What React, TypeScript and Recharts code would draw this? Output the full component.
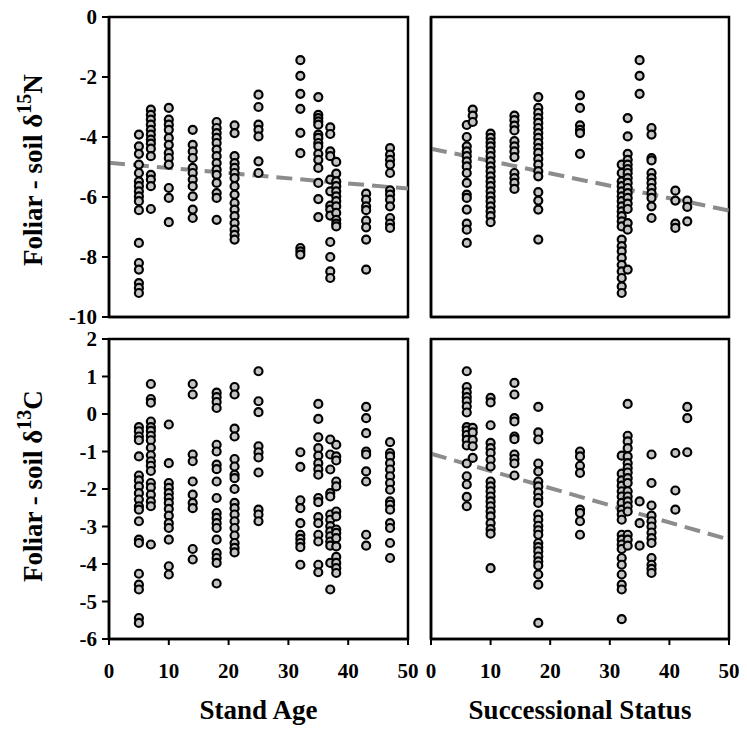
import React from 'react';
import { ScatterChart, Scatter, XAxis, YAxis, ReferenceLine, ReferenceArea } from 'recharts';

type Column = [number, number[]];

const xTicks = [0, 10, 20, 30, 40, 50];
const nTicks = [-10, -8, -6, -4, -2, 0];
const cTicks = [-6, -5, -4, -3, -2, -1, 0, 1, 2];

// foliar - soil d15N vs stand age
const ageN: Column[] = [
  [5, [-3.92, -4.31, -4.56, -4.92, -5.2, -5.48, -5.64, -5.81, -5.98, -6.14, -6.44, -7.53, -8.2, -8.42, -8.87, -9.03, -9.2]],
  [7, [-3.09, -3.26, -3.42, -3.59, -3.76, -3.92, -4.09, -4.22, -4.39, -4.64, -5.26, -5.42, -5.64, -6.4]],
  [10, [-3.03, -3.42, -3.59, -3.76, -4.03, -4.26, -4.53, -4.7, -4.92, -5.7, -6.03, -6.84]],
  [14, [-3.76, -4.26, -4.48, -4.7, -5.03, -5.2, -5.42, -5.64, -5.98, -6.42, -6.7]],
  [18, [-3.5, -3.7, -3.87, -4.03, -4.2, -4.42, -4.64, -4.87, -5.09, -5.26, -5.53, -5.87, -6.03, -6.76]],
  [21, [-3.61, -3.87, -4.64, -4.87, -5.03, -5.2, -5.37, -5.64, -5.92, -6.2, -6.42, -6.64, -6.87, -7.09, -7.26, -7.42]],
  [25, [-2.59, -3.0, -3.59, -3.76, -3.98, -4.81, -5.2]],
  [32, [-1.44, -1.96, -2.56, -3.06, -3.86, -4.54, -7.7, -7.81, -7.92]],
  [35, [-2.67, -3.26, -3.37, -3.48, -3.59, -3.92, -4.03, -4.2, -4.31, -4.56, -4.76, -5.03, -5.53, -6.07, -6.67]],
  [37, [-3.68, -3.9, -4.48, -4.64, -5.42, -5.81, -6.29, -6.42, -6.62, -7.5, -8.0, -8.48, -8.7]],
  [38, [-4.83, -5.22, -5.48, -5.64, -5.81, -5.98, -6.14, -6.31, -6.53, -6.76, -6.89, -6.98]],
  [43, [-5.89, -6.09, -6.31, -6.44, -6.79, -7.01, -7.42, -8.42]],
  [47, [-4.37, -4.59, -4.76, -4.92, -5.2, -5.78, -5.92, -6.09, -6.31, -6.7, -6.89, -7.03]],
];

// foliar - soil d15N vs successional status
const statusN: Column[] = [
  [6, [-3.6, -4.0, -4.31, -4.48, -4.64, -4.81, -4.98, -5.2, -5.53, -5.92, -6.03, -6.42, -6.89, -7.09, -7.53]],
  [7, [-3.09, -3.29, -3.5]],
  [10, [-3.89, -4.03, -4.18, -4.31, -4.48, -4.64, -4.81, -4.98, -5.14, -5.31, -5.48, -5.64, -5.81, -5.98, -6.14, -6.31, -6.48, -6.64, -6.84]],
  [14, [-3.29, -3.44, -3.62, -3.78, -4.14, -4.31, -4.48, -4.67, -5.2, -5.37, -5.53, -5.73]],
  [18, [-2.67, -3.03, -3.2, -3.37, -3.53, -3.7, -3.87, -4.03, -4.2, -4.37, -4.53, -4.73, -4.92, -5.14, -5.31, -5.84, -6.12, -6.42, -7.42]],
  [25, [-2.61, -3.03, -3.61, -3.76, -3.87, -4.56]],
  [32, [-4.92, -5.2, -5.48, -5.64, -5.81, -5.98, -6.14, -6.31, -6.48, -6.64, -6.81, -6.98, -7.42, -7.64, -7.81, -8.03, -8.26, -8.48, -8.7, -8.98, -9.2]],
  [33, [-3.37, -3.98, -4.56, -4.76, -4.92, -5.07, -5.2, -5.37, -5.53, -5.7, -5.87, -6.03, -6.22, -6.4, -6.87, -7.09, -8.42]],
  [35, [-1.44, -1.96, -2.56]],
  [37, [-3.7, -3.92, -4.7, -4.78, -5.2, -5.37, -5.53, -5.7, -5.87, -6.03, -6.31, -6.7]],
  [41, [-5.79, -6.12, -6.89, -7.03]],
  [43, [-6.12, -6.33, -6.81]],
];

// foliar - soil d13C vs stand age
const ageC: Column[] = [
  [5, [-0.35, -0.46, -0.6, -0.7, -1.13, -1.64, -1.77, -1.93, -2.11, -2.28, -2.46, -2.55, -2.86, -3.35, -3.44, -4.26, -4.55, -4.68, -5.44, -5.57]],
  [7, [0.8, 0.4, 0.3, -0.2, -0.35, -0.45, -0.58, -0.7, -0.9, -1.1, -1.26, -1.38, -1.52, -1.84, -1.96, -2.15, -2.33, -2.46, -3.48]],
  [10, [-0.28, -1.31, -1.84, -1.97, -2.11, -2.24, -2.37, -2.53, -2.71, -2.91, -3.04, -3.35, -4.06, -4.28]],
  [14, [0.8, 0.52, -1.08, -1.26, -1.8, -2.15, -2.37, -2.51, -3.6, -3.88]],
  [18, [0.57, 0.45, 0.32, 0.16, -0.82, -1.0, -1.35, -1.47, -1.8, -2.24, -2.64, -2.77, -2.91, -3.04, -3.35, -3.71, -3.84, -3.97, -4.52]],
  [21, [0.72, 0.52, -0.39, -0.6, -1.2, -1.4, -1.62, -1.71, -2.0, -2.37, -2.51, -2.68, -2.86, -3.04, -3.24, -3.44, -3.57, -3.69]],
  [25, [1.14, 0.34, 0.05, -0.86, -1.02, -1.16, -1.56, -2.55, -2.68, -2.86]],
  [32, [-1.02, -1.41, -2.3, -2.51, -2.91, -3.22, -3.33, -3.44, -3.55, -4.02]],
  [35, [0.27, -0.13, -0.62, -0.91, -1.11, -1.31, -1.47, -1.62, -2.24, -2.35, -2.75, -2.91, -3.22, -3.4, -4.02, -4.22]],
  [37, [-0.68, -1.08, -1.48, -2.11, -2.2, -2.68, -2.82, -2.99, -3.13, -3.26, -3.4, -3.51, -3.97, -4.68]],
  [38, [-0.82, -1.13, -1.24, -1.8, -1.93, -2.6, -2.73, -3.08, -3.17, -3.31, -3.53, -3.81, -3.97, -4.11, -4.24]],
  [43, [0.19, -0.11, -0.51, -1.0, -1.08, -1.53, -1.8, -3.22, -3.51]],
  [47, [-0.75, -1.04, -1.13, -1.31, -1.48, -1.66, -1.84, -2.02, -2.33, -2.42, -2.55, -2.91, -3.04, -3.44, -3.84]],
];

// foliar - soil d13C vs successional status
const statusC: Column[] = [
  [6, [1.14, 0.72, 0.58, 0.45, 0.34, 0.2, 0.04, -0.35, -0.44, -0.56, -0.69, -0.84, -1.32, -1.66, -1.88, -2.21, -2.46]],
  [7, [-0.37, -0.49, -0.69, -0.86, -1.17]],
  [10, [0.43, 0.31, -0.3, -0.77, -0.91, -1.04, -1.22, -1.4, -1.8, -1.93, -2.06, -2.2, -2.33, -2.46, -2.6, -2.73, -2.91, -3.07, -3.19, -4.11]],
  [14, [0.83, 0.52, -0.11, -0.2, -0.6, -0.67, -1.08, -1.2, -1.32, -1.64]],
  [18, [0.19, -0.49, -0.68, -1.32, -1.53, -1.8, -1.93, -2.09, -2.24, -2.37, -2.68, -2.82, -2.98, -3.1, -3.22, -3.44, -3.55, -3.66, -3.8, -3.93, -4.04, -4.28, -4.55, -5.57]],
  [25, [-1.0, -1.13, -1.38, -1.57, -2.55, -2.64, -2.86, -3.22]],
  [32, [-1.11, -1.59, -1.77, -1.91, -2.06, -2.2, -2.37, -2.55, -2.68, -2.82, -3.22, -3.35, -3.48, -3.6, -3.84, -4.02, -4.28, -4.55, -4.68, -5.47]],
  [33, [0.27, -0.58, -0.73, -0.91, -1.13, -1.31, -1.44, -1.56, -1.71, -1.84, -2.06, -2.2, -2.33, -2.46, -2.6, -3.22, -3.35, -3.51]],
  [35, [-2.33, -2.91, -3.51]],
  [37, [-1.08, -1.84, -2.44, -2.71, -2.86, -3.0, -3.16, -3.31, -3.44, -3.84, -4.02, -4.13, -4.24]],
  [41, [-1.04, -2.04, -2.55]],
  [43, [0.19, -0.11, -1.02]],
];

// regression lines (end points at x = 0 and x = 50)
const statusNTrend = [{ x: 0, y: -4.39 }, { x: 50, y: -6.45 }];
const ageNTrend = [{ x: 0, y: -4.86 }, { x: 50, y: -5.72 }];
const statusCTrend = [{ x: 0, y: -1.06 }, { x: 50, y: -3.35 }];

const FONT = '"Liberation Serif", "Times New Roman", serif';
const tickStyle = { fill: '#000', fontSize: 21, fontWeight: 'bold', fontFamily: FONT };
const axisLine = { stroke: '#000', strokeWidth: 2.5 };
const tickLine = { stroke: '#000', strokeWidth: 2 };

const toPoints = (cols: Column[]) => cols.flatMap(([x, ys]) => ys.map((y) => ({ x, y })));

const Ring = (props: any) => (
  <circle cx={props.cx} cy={props.cy} r={4} fill="#c4c4c4" stroke="#000" strokeWidth={2.2} />
);

const yTitle = (sup: string, el: string, shift: number) => (props: any) => {
  const vb = props.viewBox ?? { x: 0, y: 0, width: 109, height: 300 };
  const cx = vb.x + 42;
  const cy = vb.y + vb.height / 2 + shift;
  return (
    <text
      x={cx}
      y={cy}
      transform={`rotate(-90 ${cx} ${cy})`}
      textAnchor="middle"
      style={{ fontFamily: FONT, fontWeight: 'bold', fontSize: 27, fill: '#000' }}
    >
      Foliar - soil δ
      <tspan fontSize={20} dy={-11}>{sup}</tspan>
      <tspan dy={11}>{el}</tspan>
    </text>
  );
};

interface PanelProps {
  cols: Column[];
  trend?: { x: number; y: number }[];
  yDomain: [number, number];
  yTicks: number[];
  left: boolean;
  bottom: boolean;
  xTitle?: string;
  sup: string;
  el: string;
  shift: number;
}

function Panel({ cols, trend, yDomain, yTicks, left, bottom, xTitle, sup, el, shift }: PanelProps) {
  // plot area is 299 x 300 px; mirrored axes take no room, so the margins carry the gap
  const width = left ? 420 : bottom ? 337 : 327;
  const height = bottom ? 413 : 330;
  const margin = {
    top: bottom ? 19 : 17,
    right: 18,
    left: left ? 0 : bottom ? 21 : 11,
    bottom: bottom ? 14 : 13,
  };
  if (left) margin.right = 12;
  return (
    <ScatterChart width={width} height={height} margin={margin}>
      <XAxis
        type="number"
        dataKey="x"
        domain={[0, 50]}
        ticks={xTicks}
        interval={0}
        height={bottom ? 80 : 1}
        mirror={!bottom}
        tick={bottom ? tickStyle : false}
        tickSize={6}
        tickMargin={18}
        axisLine={axisLine}
        tickLine={tickLine}
        label={
          xTitle
            ? {
                value: xTitle,
                position: 'insideBottom',
                offset: 0,
                style: { fontFamily: FONT, fontWeight: 'bold', fontSize: 27, fill: '#000' },
              }
            : undefined
        }
      />
      <YAxis
        type="number"
        dataKey="y"
        domain={yDomain}
        ticks={yTicks}
        interval={0}
        width={left ? 109 : 11}
        mirror={!left}
        tick={left ? tickStyle : false}
        tickSize={left ? 7 : 6}
        tickMargin={5}
        axisLine={axisLine}
        tickLine={tickLine}
        label={left ? yTitle(sup, el, shift) : undefined}
      />
      <ReferenceArea
        x1={0}
        x2={50}
        y1={yDomain[0]}
        y2={yDomain[1]}
        fill="none"
        stroke="#000"
        strokeWidth={2.5}
      />
      <Scatter data={toPoints(cols)} shape={Ring} isAnimationActive={false} />
      {trend && (
        <ReferenceLine segment={trend} stroke="#8c8c8c" strokeWidth={4} strokeDasharray="16 8" />
      )}
    </ScatterChart>
  );
}

export default function App() {
  return (
    <div style={{ position: 'absolute', left: 0, top: 0, width: 747, height: 733, background: '#fff' }}>
      <div style={{ position: 'absolute', left: 0, top: 0 }}>
        <Panel cols={ageN} trend={ageNTrend} yDomain={[-10, 0]} yTicks={nTicks} left bottom={false} sup="15" el="N" shift={3} />
      </div>
      <div style={{ position: 'absolute', left: 420, top: 0 }}>
        <Panel cols={statusN} trend={statusNTrend} yDomain={[-10, 0]} yTicks={nTicks} left={false} bottom={false} sup="15" el="N" shift={0} />
      </div>
      <div style={{ position: 'absolute', left: 0, top: 320 }}>
        <Panel cols={ageC} yDomain={[-6, 2]} yTicks={cTicks} left bottom xTitle="Stand Age" sup="13" el="C" shift={-3} />
      </div>
      <div style={{ position: 'absolute', left: 410, top: 320 }}>
        <Panel cols={statusC} trend={statusCTrend} yDomain={[-6, 2]} yTicks={cTicks} left={false} bottom xTitle="Successional Status" sup="13" el="C" shift={0} />
      </div>
    </div>
  );
}
